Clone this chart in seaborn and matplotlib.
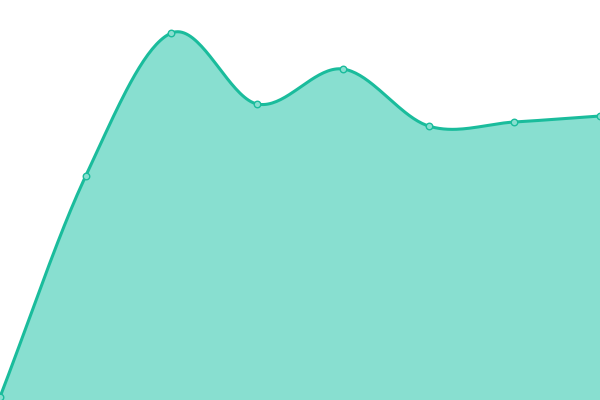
import numpy as np
import pandas as pd
import matplotlib
matplotlib.use("Agg")
import matplotlib.pyplot as plt
import seaborn as sns

steps = [0, 1, 2, 3, 4, 5, 6, 7]
values = [3, 224, 367, 296, 331, 274, 278, 284]

LINE = "#1abc9c"
FILL = "#88dfd0"


def catmull_rom(xs, ys, n=40):
    """Smooth curve through the points (cardinal spline, tension 0.5)."""
    xs = np.asarray(xs, float)
    ys = np.asarray(ys, float)
    px = np.concatenate([[2 * xs[0] - xs[1]], xs, [2 * xs[-1] - xs[-2]]])
    py = np.concatenate([[2 * ys[0] - ys[1]], ys, [2 * ys[-1] - ys[-2]]])
    out_x, out_y = [], []
    for i in range(1, len(px) - 2):
        t = np.linspace(0, 1, n, endpoint=False)
        for p, out in ((px, out_x), (py, out_y)):
            p0, p1, p2, p3 = p[i - 1], p[i], p[i + 1], p[i + 2]
            m1 = (p2 - p0) / 2
            m2 = (p3 - p1) / 2
            h00 = 2 * t**3 - 3 * t**2 + 1
            h10 = t**3 - 2 * t**2 + t
            h01 = -2 * t**3 + 3 * t**2
            h11 = t**3 - t**2
            out.extend(h00 * p1 + h10 * m1 + h01 * p2 + h11 * m2)
    out_x.append(xs[-1])
    out_y.append(ys[-1])
    return np.array(out_x), np.array(out_y)


sx, sy = catmull_rom(steps, values)
curve = pd.DataFrame({"step": sx, "value": sy})
points = pd.DataFrame({"step": steps, "value": values})

fig = plt.figure(figsize=(6, 4), dpi=100)
ax = fig.add_axes([0, 0, 1, 1])
ax.fill_between(curve["step"], curve["value"], 0, color=FILL, linewidth=0)
sns.lineplot(data=curve, x="step", y="value", color=LINE, linewidth=2.2,
             sort=False, ax=ax)
sns.scatterplot(data=points, x="step", y="value", s=22, color=FILL,
                edgecolor=LINE, linewidth=1.0, zorder=5, ax=ax, clip_on=False)
ax.set_xlim(0, 7)
ax.set_ylim(0, 400)
ax.axis("off")
fig.savefig("out.png", dpi=100)
